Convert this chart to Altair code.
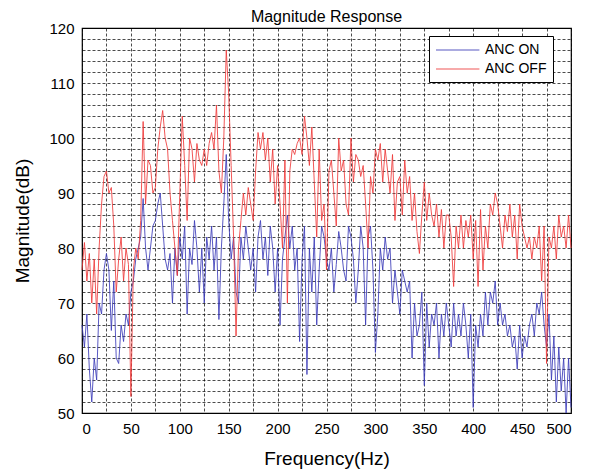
import altair as alt
import pandas as pd

freq = [i * 2.5 for i in range(201)]

anc_off = [76, 81, 74, 79, 70, 78, 68, 80, 88, 93, 94, 90, 91, 84, 72, 78, 82, 74, 80, 77,
           53, 76, 80, 78, 85, 103, 88, 96, 95, 90, 91, 98, 102, 105, 100, 98, 90, 85, 80, 75,
           90, 104, 95, 85, 100, 98, 92, 99, 96, 95, 98, 95, 99, 101, 98, 106, 94, 90, 100, 116,
           108, 95, 82, 64, 80, 85, 90, 86, 91, 88, 85, 94, 101, 98, 101, 96, 100, 92, 98, 88,
           95, 88, 80, 96, 70, 94, 98, 97, 99, 100, 97, 104, 100, 95, 102, 92, 82, 98, 85, 88,
           76, 94, 96, 90, 84, 100, 94, 96, 88, 86, 100, 92, 97, 96, 93, 95, 88, 80, 93, 90,
           98, 96, 99, 92, 98, 94, 90, 97, 85, 92, 93, 86, 96, 90, 93, 85, 90, 83, 79, 86,
           92, 85, 90, 86, 84, 88, 82, 87, 80, 86, 86, 82, 73, 84, 80, 86, 80, 85, 82, 86,
           78, 85, 73, 87, 76, 84, 80, 88, 86, 90, 88, 84, 80, 86, 83, 88, 82, 86, 78, 88,
           84, 82, 80, 82, 78, 82, 80, 84, 74, 84, 59, 82, 80, 84, 78, 86, 82, 84, 80, 86,
           80]

anc_on = [66, 62, 68, 58, 52, 60, 56, 70, 68, 76, 79, 76, 65, 74, 60, 59, 66, 63, 68, 66,
          72, 74, 78, 80, 82, 89, 80, 76, 80, 84, 85, 88, 90, 84, 78, 76, 79, 70, 80, 75,
          82, 78, 84, 68, 80, 77, 85, 80, 72, 80, 70, 82, 78, 84, 76, 82, 67, 80, 88, 97,
          85, 78, 82, 72, 70, 82, 78, 84, 80, 76, 80, 72, 82, 85, 78, 82, 75, 84, 80, 72,
          80, 66, 78, 82, 86, 80, 84, 76, 80, 63, 78, 84, 57, 80, 72, 82, 66, 76, 84, 82,
          78, 76, 80, 72, 77, 83, 80, 76, 74, 84, 82, 78, 70, 76, 84, 80, 66, 82, 84, 76,
          61, 68, 80, 76, 82, 78, 80, 70, 76, 72, 68, 76, 74, 72, 74, 60, 70, 64, 66, 72,
          55, 70, 62, 68, 66, 70, 60, 68, 64, 70, 66, 62, 70, 64, 68, 64, 70, 66, 60, 68,
          51, 66, 62, 68, 64, 72, 66, 72, 70, 74, 66, 70, 66, 68, 64, 66, 62, 64, 58, 66,
          60, 64, 62, 66, 68, 64, 70, 68, 72, 66, 62, 68, 56, 64, 52, 62, 54, 60, 50, 60,
          51]

series_names = ["ANC ON", "ANC OFF"]
series_colors = ["#3c3cb8", "#ee3a3a"]

rows = []
for name, vals in zip(series_names, [anc_on, anc_off]):
    for f, v in zip(freq, vals):
        rows.append({"Frequency": f, "Magnitude": v, "Series": name})
df = pd.DataFrame(rows)

font = "Liberation Sans"

grid_kw = dict(grid=True, gridDash=[3, 2], gridColor="#000000", gridOpacity=0.7,
               ticks=False, domain=False, labelPadding=8,
               labelFontSize=15, titleFontSize=19, labelColor="#000", titleColor="#000",
               titleFontWeight="normal", labelFont=font, titleFont=font)

chart = alt.Chart(df).mark_line(strokeWidth=1, opacity=0.85).encode(
    x=alt.X("Frequency:Q",
            scale=alt.Scale(domain=[0, 500], nice=False),
            axis=alt.Axis(title="Frequency(Hz)",
                          values=list(range(0, 501, 25)),
                          labelExpr="datum.value % 50 == 0 ? datum.label : ''",
                          titlePadding=13, **grid_kw)),
    y=alt.Y("Magnitude:Q",
            scale=alt.Scale(domain=[50, 120], nice=False),
            axis=alt.Axis(title="Magnitude(dB)",
                          values=list(range(50, 121, 2)),
                          labelExpr="datum.value % 10 == 0 ? datum.label : ''",
                          titlePadding=16, **grid_kw)),
    color=alt.Color("Series:N",
                    scale=alt.Scale(domain=series_names, range=series_colors),
                    sort=series_names,
                    legend=alt.Legend(title=None, orient="none", legendX=347, legendY=8,
                                      symbolType="M-1,0L5.2,0", symbolSize=196,
                                      symbolStrokeWidth=1.2,
                                      labelFontSize=14, labelFont=font, labelColor="#000",
                                      strokeColor="#000", fillColor="#ffffff", padding=6,
                                      rowPadding=4, labelOffset=34)),
    order=alt.Order("Series:N", sort="descending"),
).properties(
    width=489, height=385,
    title=alt.TitleParams("Magnitude Response", fontSize=16, font=font, fontWeight="normal",
                          color="#000", frame="group", offset=7, dy=11),
    padding={"left": 74, "top": 20, "right": 10, "bottom": 58},
    autosize=alt.AutoSizeParams(type="none"),
).configure_view(stroke="#000", strokeWidth=1.2)

chart.save("out.html", embed_options={"renderer": "svg", "actions": False})
